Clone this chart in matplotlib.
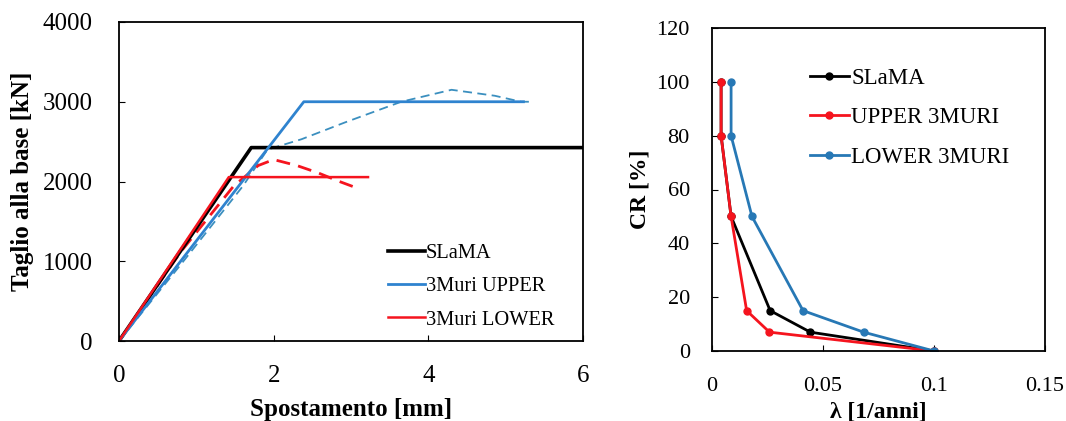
import matplotlib
matplotlib.use("Agg")
import matplotlib.pyplot as plt
from matplotlib.lines import Line2D

plt.rcParams['font.family'] = ['Liberation Serif', 'DejaVu Serif']
plt.rcParams['mathtext.fontset'] = 'stix'

# --- Pushover curves: base shear vs displacement ---
slama_x = [0.0, 1.71, 6.0]
slama_y = [0, 2425, 2425]

upper_bil_x = [0.0, 2.39, 5.23]
upper_bil_y = [0, 3000, 3000]
upper_cap_x = [0.0, 0.8, 1.6, 1.92, 2.36, 2.92, 3.65, 4.30, 4.86, 5.2, 5.35]
upper_cap_y = [0, 960, 1940, 2400, 2530, 2740, 3000, 3150, 3075, 3000, 3000]

lower_bil_x = [0.0, 1.42, 3.22]
lower_bil_y = [0, 2055, 2055]
lower_cap_x = [0.0, 0.8, 1.48, 1.8, 2.0, 2.3, 2.57, 2.85, 3.1]
lower_cap_y = [0, 1120, 1940, 2200, 2275, 2200, 2110, 2000, 1910]

# --- Risk class curves: CR vs annual frequency ---
slama_lam = [0.0041, 0.0041, 0.0086, 0.0262, 0.0443, 0.1]
slama_cr = [100, 80, 50, 15, 7, 0]
upper_lam = [0.0041, 0.0041, 0.0086, 0.0156, 0.0259, 0.1]
upper_cr = [100, 80, 50, 15, 7, 0]
lower_lam = [0.0086, 0.0086, 0.018, 0.041, 0.0683, 0.1]
lower_cr = [100, 80, 50, 15, 7, 0]

BLUE = "#2F83CF"
BLUE_D = "#3B8FBF"
RED = "#F5141E"
BLUE_R = "#2778B5"

fig = plt.figure(figsize=(10.66, 4.21), dpi=100)

# Left panel
ax1 = fig.add_axes([119/1066, 1 - 341/421, (583-119)/1066, (341-22)/421])
ax1.plot(upper_cap_x, upper_cap_y, color=BLUE_D, lw=1.3, ls=(0, (5, 3)))
ax1.plot(lower_cap_x, lower_cap_y, color=RED, lw=2.0, ls=(0, (5, 3)))
ax1.plot(slama_x, slama_y, color="black", lw=2.6)
ax1.plot(upper_bil_x, upper_bil_y, color=BLUE, lw=2.0)
ax1.plot(lower_bil_x, lower_bil_y, color=RED, lw=1.8)
ax1.set_xlim(0, 6)
ax1.set_ylim(0, 4000)
ax1.set_xticks([0, 2, 4, 6])
ax1.set_yticks([0, 1000, 2000, 3000, 4000])
ax1.tick_params(direction='in', length=4, labelsize=18)
ax1.tick_params(axis='x', pad=17)
ax1.tick_params(axis='y', pad=19)
ax1.set_xlabel("Spostamento [mm]", fontsize=18, fontweight='bold', labelpad=8)
ax1.set_ylabel("Taglio alla base [kN]", fontsize=18, fontweight='bold', labelpad=6)
for s in ax1.spines.values():
    s.set_linewidth(1.3)

h1 = [Line2D([], [], color="black", lw=2.6),
      Line2D([], [], color=BLUE, lw=2.0),
      Line2D([], [], color=RED, lw=1.8)]
ax1.legend(h1, ["SLaMA", "3Muri UPPER", "3Muri LOWER"],
           loc='upper left', bbox_to_anchor=(388/1066, 1 - 244/421),
           bbox_transform=fig.transFigure, frameon=False, fontsize=14.7,
           handlelength=1.8, handletextpad=0.05, labelspacing=0.68,
           borderaxespad=0, borderpad=0)

# Right panel
ax2 = fig.add_axes([712/1066, 1 - 351/421, (1045-712)/1066, (351-28)/421])
ax2.plot(slama_lam, slama_cr, color="black", lw=2.0, marker='o', ms=5)
ax2.plot(upper_lam, upper_cr, color=RED, lw=2.0, marker='o', ms=5)
ax2.plot(lower_lam, lower_cr, color=BLUE_R, lw=2.0, marker='o', ms=5)
ax2.set_xlim(0, 0.15)
ax2.set_ylim(0, 120)
ax2.set_xticks([0, 0.05, 0.1, 0.15])
ax2.set_xticklabels(["0", "0.05", "0.1", "0.15"])
ax2.set_yticks([0, 20, 40, 60, 80, 100, 120])
ax2.tick_params(direction='in', length=4, labelsize=16)
ax2.tick_params(axis='x', pad=19)
ax2.tick_params(axis='y', pad=16)
ax2.set_xlabel("λ [1/anni]", fontsize=17, fontweight='bold', labelpad=4)
ax2.set_ylabel("CR [%]", fontsize=17, fontweight='bold', labelpad=4)
for s in ax2.spines.values():
    s.set_linewidth(1.3)

ax2.legend(["SLaMA", "UPPER 3MURI", "LOWER 3MURI"],
           loc='upper left', bbox_to_anchor=(810/1066, 1 - 68/421),
           bbox_transform=fig.transFigure, frameon=False, fontsize=16.5,
           handlelength=1.7, handletextpad=0.1, labelspacing=0.8,
           borderaxespad=0, borderpad=0)

fig.savefig("out.png", dpi=100)
